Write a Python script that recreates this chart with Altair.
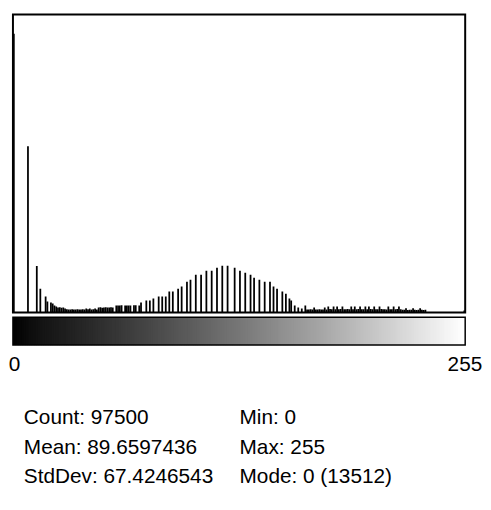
import altair as alt
import pandas as pd

# ---- data (ImageJ-style 8-bit histogram) ----
gray_levels = list(range(256))
counts = [
    13512, 0, 0, 0, 0, 0, 0, 0, 8060, 0, 0, 0, 0, 2250, 0, 1150,          # 0-15
    0, 0, 770, 530, 0, 480, 430, 340, 290, 240, 250, 230, 240, 190, 150, 140,   # 16-31
    145, 150, 135, 140, 150, 145, 140, 150, 145, 190, 150, 190, 145, 150, 190, 145,  # 32-47
    240, 250, 230, 240, 245, 235, 240, 250, 240, 0, 330, 340, 335, 345, 0, 330,  # 48-63
    340, 335, 340, 0, 345, 350, 0, 340, 480, 0, 0, 575, 0, 575, 0, 670,        # 64-79
    0, 0, 770, 0, 770, 0, 770, 0, 1010, 0, 1010, 0, 0, 1150, 0, 1250,          # 80-95
    0, 0, 1490, 0, 1580, 0, 0, 1820, 0, 0, 1820, 0, 0, 2020, 0, 0,             # 96-111
    2020, 0, 0, 2160, 0, 0, 2260, 0, 0, 2260, 0, 0, 0, 2160, 0, 0,             # 112-127
    2020, 0, 0, 1920, 0, 0, 1820, 0, 1680, 0, 0, 1580, 0, 0, 1490, 0,          # 128-143
    0, 1490, 0, 1250, 0, 1150, 0, 0, 1010, 0, 910, 0, 670, 575, 0, 335,        # 144-159
    0, 240, 0, 190, 0, 335, 145, 140, 150, 145, 240, 145, 140, 150, 145, 140,  # 160-175
    240, 145, 280, 160, 150, 280, 155, 285, 150, 160, 280, 150, 155, 160, 150, 285,  # 176-191
    155, 280, 150, 160, 285, 150, 155, 280, 150, 285, 160, 150, 280, 155, 150, 285,  # 192-207
    160, 150, 155, 145, 280, 150, 155, 285, 150, 160, 280, 150, 130, 125, 200, 120,  # 208-223
    125, 130, 200, 125, 120, 130, 200, 125, 120, 130, 0, 0, 0, 0, 0, 0,        # 224-239
    0, 0, 0, 0, 0, 0, 0, 0, 0, 0, 0, 0, 0, 0, 0, 95,                           # 240-255
]
axis_labels = [0, 255]

stat_count = "97500"
stat_mean = "89.6597436"
stat_stddev = "67.4246543"
stat_min = "0"
stat_max = "255"
stat_mode = "0 (13512)"

left_lines = [f"Count: {stat_count}", f"Mean: {stat_mean}", f"StdDev: {stat_stddev}"]
right_lines = [f"Min: {stat_min}", f"Max: {stat_max}", f"Mode: {stat_mode}"]

df = pd.DataFrame({"level": gray_levels, "count": counts})
one = pd.DataFrame({"k": [0]})

W, H = 457, 301
FONT = "Liberation Sans, Arial, sans-serif"

xscale = alt.Scale(domain=[0, 256], nice=False, zero=False)
yscale = alt.Scale(domain=[0, 14450], nice=False)

bars = alt.Chart(df).transform_calculate(end="datum.level + 1").mark_rect(
    color="black", clip=True
).encode(
    x=alt.X("level:Q", scale=xscale,
            axis=alt.Axis(values=axis_labels, title=None, ticks=False, domain=False,
                          grid=False, labelFont=FONT, labelFontSize=21,
                          labelColor="black", labelPadding=42, labelFlush=False,
                          labelOffset=1)),
    x2="end:Q",
    y=alt.Y("count:Q", scale=yscale, axis=None),
    y2=alt.datum(0),
)

# gradient strip under the plot; each cell overlaps the next slightly to avoid seams
strip = alt.Chart(df).transform_calculate(
    end="min(datum.level + 1.6, 256)"
).mark_rect().encode(
    x=alt.X("level:Q", scale=xscale),
    x2="end:Q",
    y=alt.value(306),
    y2=alt.value(334),
    color=alt.Color("level:Q", scale=alt.Scale(domain=[0, 255], range=["#000000", "#ffffff"]),
                    legend=None),
)

strip_frame = alt.Chart(one).mark_rect(filled=False, stroke="black", strokeWidth=1.5).encode(
    x=alt.datum(0, scale=xscale), x2=alt.datum(256),
    y=alt.value(306), y2=alt.value(334),
)

left_text = alt.Chart(one).mark_text(
    align="left", baseline="alphabetic", font=FONT, fontSize=21, lineHeight=29.7, color="black"
).encode(x=alt.value(11), y=alt.value(414), text=alt.value(left_lines))

right_text = alt.Chart(one).mark_text(
    align="left", baseline="alphabetic", font=FONT, fontSize=21, lineHeight=29.7, color="black"
).encode(x=alt.value(229), y=alt.value(414), text=alt.value(right_lines))

chart = alt.layer(bars, strip, strip_frame, left_text, right_text).resolve_scale(
    color="independent"
).properties(
    width=W, height=H,
    autosize=alt.AutoSizeParams(type="none"),
    padding={"left": 5, "top": 4, "right": 18, "bottom": 188},
    background="white",
).configure_view(stroke="black", strokeWidth=2)

chart.save("out.html", embed_options={"renderer": "svg", "actions": False})
